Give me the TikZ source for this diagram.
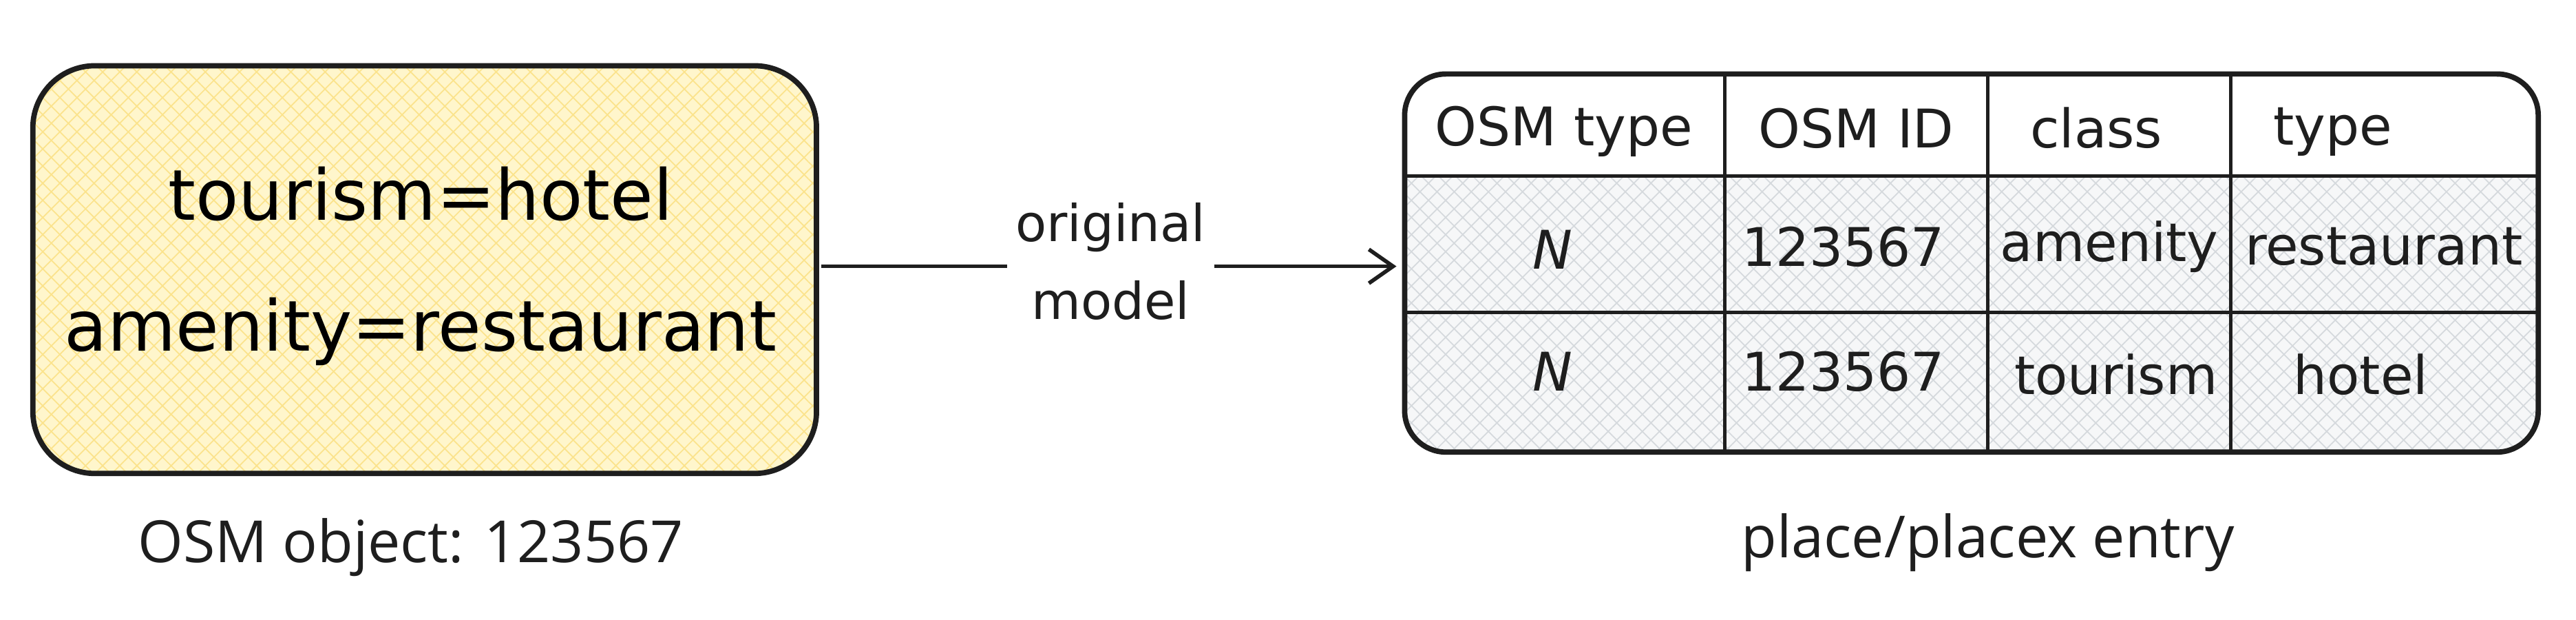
\documentclass[tikz,border=0pt]{standalone}
\usepackage{fontspec}
\setmainfont{Open Sans}
\newfontfamily\hand{DejaVu Sans}
\usetikzlibrary{patterns,patterns.meta,positioning,arrows.meta}
\definecolor{noteFill}{HTML}{FFF6CC}
\definecolor{noteHatch}{HTML}{FBE38C}
\definecolor{rowFill}{HTML}{F6F7F8}
\definecolor{rowHatch}{HTML}{D5D9DD}
\definecolor{inkLine}{HTML}{1E1E1E}
\begin{document}
\begin{tikzpicture}[x=0.02386cm, y=-0.02386cm,
    note/.style={draw=inkLine, line width=2.2pt, rounded corners=0.9cm},
    cell/.style={font=\hand\fontsize{22}{28}\selectfont, text=inkLine},
    caption/.style={font=\fontsize{24}{30}\selectfont, text=inkLine},
    flow/.style={draw=inkLine, line width=1.6pt, -{Straight Barb[length=10pt,width=14pt]}}
]
\useasboundingbox (0,0) rectangle (1568,377);

% left object
\fill[noteFill, rounded corners=0.9cm] (20,40) rectangle (497,288);
\fill[pattern={Lines[angle=45,distance=5pt,line width=0.5pt]}, pattern color=noteHatch, rounded corners=0.9cm] (20,40) rectangle (497,288);
\fill[pattern={Lines[angle=-45,distance=5pt,line width=0.5pt]}, pattern color=noteHatch, rounded corners=0.9cm] (20,40) rectangle (497,288);
\draw[note] (20,40) rectangle (497,288);
\node (obj) [font=\hand\fontsize{29}{54}\selectfont, align=center] at (256,162) {tourism=hotel\\amenity=restaurant};
\node (objcap) [caption] at (250,333) {OSM object: 123567};

% table
\begin{scope}
\clip[rounded corners=0.6cm] (855,45) rectangle (1545,275);
\fill[rowFill] (855,107) rectangle (1545,275);
\fill[pattern={Lines[angle=45,distance=5pt,line width=0.5pt]}, pattern color=rowHatch] (855,107) rectangle (1545,275);
\fill[pattern={Lines[angle=-45,distance=5pt,line width=0.5pt]}, pattern color=rowHatch] (855,107) rectangle (1545,275);
\end{scope}
\draw[draw=inkLine, line width=2.2pt, rounded corners=0.6cm] (855,45) rectangle (1545,275);
\foreach \cx in {1050,1210,1358}
  \draw[inkLine, line width=1.4pt] (\cx,45) -- (\cx,275);
\foreach \ry in {107,190}
  \draw[inkLine, line width=1.4pt] (855,\ry) -- (1545,\ry);
\node (h1) [cell] at (952,80) {OSM type};
\node (h2) [cell] at (1130,78) {OSM ID};
\node (h3) [cell] at (1276,78) {class};
\node (h4) [cell] at (1420,80) {type};
\node (a1) [cell] at (945,152) {\itshape N};
\node (a2) [cell] at (1122,150) {123567};
\node (a3) [cell] at (1284,150) {amenity};
\node (a4) [cell] at (1451,150) {restaurant};
\node (b1) [cell] at (945,226) {\itshape N};
\node (b2) [cell] at (1122,226) {123567};
\node (b3) [cell] at (1288,228) {tourism};
\node (b4) [cell] at (1437,228) {hotel};
\node (tabcap) [caption] at (1210,330) {place/placex entry};

% connector
\coordinate (tabIn) at (850,162);
\coordinate (objOut) at (500,162);
\node (lbl) [cell, align=center, font=\hand\fontsize{21}{32}\selectfont] at (676,159) {original\\model};
\draw[inkLine, line width=1.6pt] (objOut) -- (objOut -| lbl.west);
\draw[flow] (tabIn -| lbl.east) -- (tabIn);
\end{tikzpicture}
\end{document}
